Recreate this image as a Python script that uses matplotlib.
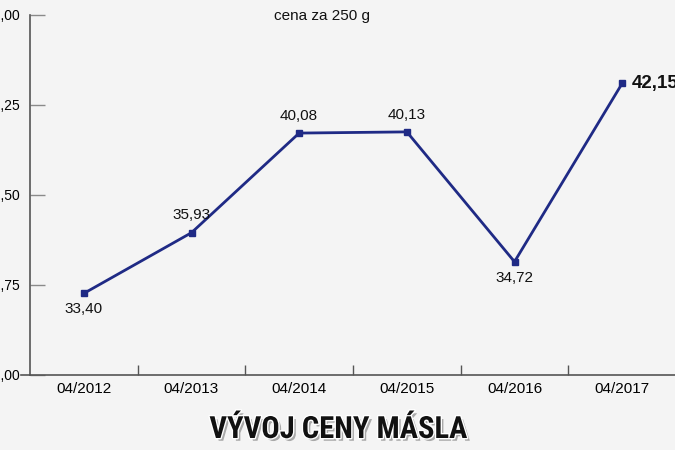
import matplotlib
matplotlib.use("Agg")
import matplotlib.pyplot as plt
import matplotlib.patheffects as pe
from matplotlib import font_manager
import numpy as np

categories = ["04/2012", "04/2013", "04/2014", "04/2015", "04/2016", "04/2017"]
prices = [33.40, 35.93, 40.08, 40.13, 34.72, 42.15]
price_labels = ["33,40", "35,93", "40,08", "40,13", "34,72", "42,15"]
yticks = [30.0, 33.75, 37.5, 41.25, 45.0]
ytick_labels = ["30,00", "33,75", "37,50", "41,25", "45,00"]

plt.rcParams['font.family'] = ['Liberation Sans', 'DejaVu Sans']

available = {f.name for f in font_manager.fontManager.ttflist}
title_family = "Liberation Sans"
for cand in ["Liberation Sans Narrow", "Roboto Condensed", "Open Sans Condensed",
             "DejaVu Sans Condensed"]:
    if cand in available:
        title_family = cand
        break

fig = plt.figure(figsize=(6.75, 4.5), dpi=100)
bg = "#f4f4f4"
fig.patch.set_facecolor(bg)
ax = fig.add_axes([30/675, 75/450, 646/675, 360/450])
ax.set_facecolor("none")

x = np.arange(len(categories))
navy = "#1f2a85"
ax.plot(x, prices, color=navy, lw=2.0, marker="s", ms=4.5, mfc=navy, mec=navy, zorder=3)

ax.set_xlim(-0.5, len(categories) - 0.5)
ax.set_ylim(30, 45)

ax.set_yticks(yticks)
ax.set_yticklabels(ytick_labels, fontsize=10)
ax.tick_params(axis="y", direction="in", length=11, width=1, color="#8a8a8a", pad=7)

ax.set_xticks(x)
ax.set_xticklabels(categories, fontsize=11)
ax.tick_params(axis="x", which="major", length=0, pad=5)
ax.set_xticks(np.arange(0.5, len(categories) - 0.5, 1), minor=True)
ax.tick_params(axis="x", which="minor", direction="in", length=7, width=1, color="#555555")

for s in ["top", "right"]:
    ax.spines[s].set_visible(False)
for s in ["left", "bottom"]:
    ax.spines[s].set_color("#555555")
    ax.spines[s].set_linewidth(1.2)

# small outward stub at origin
ax.plot([-0.58, -0.5], [30, 30], color="#555555", lw=1.2, clip_on=False)

offsets = {0: -11, 1: 12.5, 2: 12, 3: 12, 4: -12}
for i, (xi, yi, lab) in enumerate(zip(x, prices, price_labels)):
    if i == len(prices) - 1:
        ax.annotate(lab, (xi, yi), xytext=(7, 0), textcoords="offset points",
                    ha="left", va="center", fontsize=13.5, fontweight="bold", color="#111111")
    else:
        ax.annotate(lab, (xi, yi), xytext=(0, offsets[i]), textcoords="offset points",
                    ha="center", va="center", fontsize=11, color="#111111")

fig.text(322/675, 1 - 16/450, "cena za 250 g", ha="center", va="center", fontsize=11, color="#111111")

title = fig.text(338/675, 1 - 429/450, "VÝVOJ CENY MÁSLA", ha="center", va="center",
                 fontsize=22, fontweight="bold", color="#111111",
                 family=[title_family, "DejaVu Sans"])
# fit title width to about 270 px
renderer = fig.canvas.get_renderer()
w = title.get_window_extent(renderer).width
if w > 272:
    title.set_fontsize(22 * 270 / w)
title.set_path_effects([pe.withSimplePatchShadow(offset=(2, -2), shadow_rgbFace="#777777", alpha=0.6),
                        pe.Stroke(linewidth=2, foreground="white"), pe.Normal()])

fig.savefig("out.png", dpi=100, facecolor=fig.get_facecolor())
